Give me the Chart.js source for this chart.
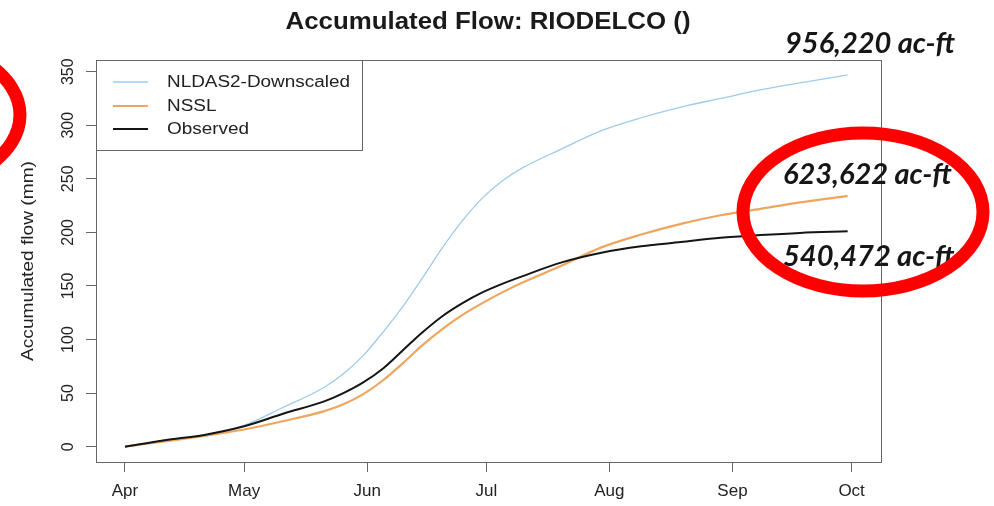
<!DOCTYPE html>
<html>
<head>
<meta charset="utf-8">
<title>Accumulated Flow: RIODELCO ()</title>
<script src="https://cdn.jsdelivr.net/npm/chart.js@4/dist/chart.umd.min.js"></script>
<style>
  html, body { margin: 0; padding: 0; background: #ffffff; }
  canvas { display: block; }
</style>
</head>
<body>
<canvas id="flow" width="994" height="506"></canvas>
<script>
// Days counted from 1 April
const dayOffsets = [0, 10, 20, 30, 40, 50, 55, 60, 65, 70, 75, 80, 85, 90, 95, 100, 110, 120, 130, 140, 150, 160, 170, 182];

// Accumulated flow (mm)
const nldasDownscaled = [0, 6, 11, 20, 37, 55, 68, 85, 107, 131, 158, 186, 211, 232, 248, 260, 278, 295, 307, 317, 325, 333, 339.5, 347];
const nssl            = [0, 5, 10, 16, 24, 33, 39.5, 49, 62, 78, 95, 110, 123, 134, 144, 153, 169, 186, 198, 208, 216, 222, 228, 234];
const observed        = [0, 6, 11, 19, 31, 42, 50, 60, 73, 90, 107, 122, 134, 144, 152, 159, 172, 181, 187, 191, 195, 197.5, 199.5, 201];

// Month ticks on the x axis
const monthDays   = [0, 30, 61, 91, 122, 153, 183];
const monthLabels = ['Apr', 'May', 'Jun', 'Jul', 'Aug', 'Sep', 'Oct'];

// Y axis ticks
const yTicks = [0, 50, 100, 150, 200, 250, 300, 350];

// Season totals written beside the curve ends
const totalLabels = ['956,220 ac-ft', '623,622 ac-ft', '540,472 ac-ft'];

const seriesNames  = ['NLDAS2-Downscaled', 'NSSL', 'Observed'];
const seriesValues = [nldasDownscaled, nssl, observed];
const seriesColors = ['#9fcbec', '#eea65e', '#151515'];
const seriesWidths = [1.3, 2.2, 2.0];
const seriesOrder  = [2, 1, 0];

const toPoints = vals => vals.map((v, i) => ({ x: dayOffsets[i], y: v }));

const datasets = seriesNames.map((name, i) => ({
  label: name,
  data: toPoints(seriesValues[i]),
  borderColor: seriesColors[i],
  borderWidth: seriesWidths[i],
  pointRadius: 0,
  fill: false,
  cubicInterpolationMode: 'monotone',
  order: seriesOrder[i]
}));

const AXIS_GREY = '#666666';
const TEXT = '#222222';

// Frame, labels, legend and notes drawn around the plot
const decorations = {
  id: 'decorations',
  afterDraw(chart) {
    const { ctx, chartArea: a, scales } = chart;
    const ys = scales.y;

    ctx.save();

    // Title
    ctx.fillStyle = '#1a1a1a';
    ctx.font = 'bold 24px "Liberation Sans", Arial, sans-serif';
    ctx.textAlign = 'center';
    ctx.textBaseline = 'middle';
    ctx.save();
    ctx.translate(488, 22);
    const tw = ctx.measureText('Accumulated Flow: RIODELCO ()').width;
    ctx.scale(405 / tw, 1);
    ctx.fillText('Accumulated Flow: RIODELCO ()', 0, 0);
    ctx.restore();

    // Y tick labels, rotated like the axis
    ctx.font = '16px "Liberation Sans", Arial, sans-serif';
    ctx.fillStyle = TEXT;
    yTicks.forEach(v => {
      const py = ys.getPixelForValue(v);
      ctx.save();
      ctx.translate(69, py);
      ctx.rotate(-Math.PI / 2);
      ctx.textAlign = 'center';
      ctx.textBaseline = 'middle';
      ctx.fillText(String(v), 0, 0);
      ctx.restore();
    });

    // Y axis title
    ctx.save();
    ctx.translate(28, (a.top + a.bottom) / 2);
    ctx.rotate(-Math.PI / 2);
    ctx.font = '17px "Liberation Sans", Arial, sans-serif';
    ctx.textAlign = 'center';
    ctx.textBaseline = 'middle';
    const yw = ctx.measureText('Accumulated flow (mm)').width;
    ctx.scale(200 / yw, 1);
    ctx.fillText('Accumulated flow (mm)', 0, 0);
    ctx.restore();

    // Plot frame
    ctx.strokeStyle = AXIS_GREY;
    ctx.lineWidth = 1;
    ctx.strokeRect(Math.round(a.left) + 0.5, Math.round(a.top) + 0.5,
                   Math.round(a.right - a.left), Math.round(a.bottom - a.top));

    // Legend in the top-left corner of the plot
    const lg = { x: a.left, y: a.top, w: 266, h: 90 };
    ctx.fillStyle = '#ffffff';
    ctx.fillRect(lg.x + 0.5, lg.y + 0.5, lg.w, lg.h);
    ctx.strokeStyle = AXIS_GREY;
    ctx.strokeRect(Math.round(lg.x) + 0.5, Math.round(lg.y) + 0.5, lg.w, lg.h);
    const rowY = [82, 106, 129];
    ctx.font = '16px "Liberation Sans", Arial, sans-serif';
    ctx.textAlign = 'left';
    ctx.textBaseline = 'middle';
    const legendStretch = 183 / ctx.measureText(chart.data.datasets[0].label).width;
    chart.data.datasets.forEach((ds, i) => {
      ctx.strokeStyle = ds.borderColor;
      ctx.lineWidth = ds.borderWidth;
      ctx.beginPath();
      ctx.moveTo(lg.x + 17, rowY[i]);
      ctx.lineTo(lg.x + 52, rowY[i]);
      ctx.stroke();
      ctx.fillStyle = TEXT;
      ctx.save();
      ctx.translate(lg.x + 71, rowY[i] + 1);
      ctx.scale(legendStretch, 1);
      ctx.fillText(ds.label, 0, 0);
      ctx.restore();
    });

    // Season totals
    ctx.fillStyle = '#161616';
    ctx.font = 'italic bold 29px Lato, "Open Sans", sans-serif';
    ctx.textAlign = 'left';
    ctx.textBaseline = 'alphabetic';
    const notePos = [[785, 53], [783, 184], [783, 266]];
    totalLabels.forEach((t, i) => ctx.fillText(t, notePos[i][0], notePos[i][1]));

    // Red highlight rings
    ctx.strokeStyle = '#fe0000';
    ctx.lineWidth = 13;
    ctx.beginPath();
    ctx.ellipse(863, 212, 120, 79, 0, 0, Math.PI * 2);
    ctx.stroke();
    ctx.beginPath();
    ctx.ellipse(-100, 115, 120, 75, 0, 0, Math.PI * 2);
    ctx.stroke();

    ctx.restore();
  }
};

new Chart(document.getElementById('flow'), {
  type: 'line',
  data: { datasets },
  options: {
    responsive: false,
    animation: false,
    events: [],
    layout: { padding: { top: 60, right: 113, bottom: 0, left: 0 } },
    plugins: {
      legend: { display: false },
      tooltip: { enabled: false },
      title: { display: false }
    },
    scales: {
      x: {
        type: 'linear',
        min: -7.3,
        max: 190.4,
        afterFit: s => { s.height = 44; },
        afterBuildTicks: s => { s.ticks = monthDays.map(v => ({ value: v })); },
        ticks: {
          autoSkip: false,
          maxRotation: 0,
          minRotation: 0,
          padding: 9,
          color: TEXT,
          font: { family: '"Liberation Sans", Arial, sans-serif', size: 17 },
          callback: v => monthLabels[monthDays.indexOf(v)]
        },
        grid: { drawOnChartArea: false, drawTicks: true, tickLength: 10, color: AXIS_GREY },
        border: { display: true, color: AXIS_GREY }
      },
      y: {
        type: 'linear',
        min: -14.3,
        max: 360.9,
        afterFit: s => { s.width = 96; },
        afterBuildTicks: s => { s.ticks = yTicks.map(v => ({ value: v })); },
        ticks: { display: false },
        grid: { drawOnChartArea: false, drawTicks: true, tickLength: 10, color: AXIS_GREY },
        border: { display: true, color: AXIS_GREY }
      }
    }
  },
  plugins: [decorations]
});
</script>
</body>
</html>
